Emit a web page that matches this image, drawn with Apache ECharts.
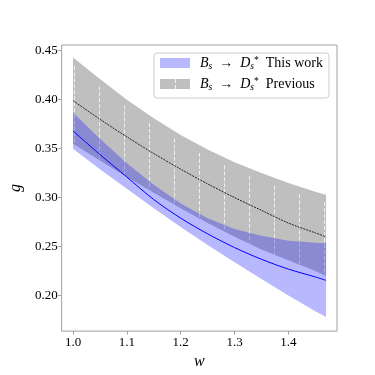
<!DOCTYPE html>
<html>
<head>
<meta charset="utf-8">
<script src="https://cdn.jsdelivr.net/npm/echarts@6/dist/echarts.min.js"></script>
<style>
html, body { margin: 0; padding: 0; background: #fff; }
#chart { width: 375px; height: 375px; }
</style>
</head>
<body>
<div id="chart"></div>
<script>
// w grid and the two bands
const w = [1.0, 1.05, 1.1, 1.15, 1.2, 1.25, 1.3, 1.35, 1.4, 1.45, 1.47]

const thisCenter = [0.368, 0.344, 0.321, 0.298, 0.279, 0.263, 0.249, 0.237, 0.227, 0.219, 0.2155]
const thisUpper = [0.387, 0.360, 0.335, 0.313, 0.294, 0.279, 0.268, 0.261, 0.256, 0.254, 0.2534]
const thisLower = [0.350, 0.329, 0.309, 0.289, 0.270, 0.2515, 0.234, 0.217, 0.200, 0.184, 0.178]

const prevCenter = [0.399, 0.380, 0.362, 0.345, 0.329, 0.314, 0.300, 0.287, 0.274, 0.264, 0.260]
const prevUpper = [0.443, 0.421, 0.400, 0.381, 0.364, 0.349, 0.336, 0.325, 0.315, 0.306, 0.303]
const prevLower = [0.355, 0.338, 0.321, 0.305, 0.289, 0.274, 0.260, 0.247, 0.236, 0.225, 0.2196]

const xTicks = [1.0, 1.1, 1.2, 1.3, 1.4]
const yTicks = [0.2, 0.25, 0.3, 0.35, 0.4, 0.45]

const nameThis = "Bs -> Ds* This work"
const namePrev = "Bs -> Ds* Previous"

const HATCH_STEP = 25
const HATCH_PHASE = 24
const FRAME = "#a0a0a0"
const SERIF = "'Liberation Serif', 'DejaVu Serif', serif"

function bandRenderer(lower, upper, hatch) {
  return function (params, api) {
    if (params.dataIndex !== 0) return null
    const top = w.map((x, i) => api.coord([x, upper[i]]))
    const bot = w.map((x, i) => api.coord([x, lower[i]]))
    const children = [{
      type: "polygon",
      shape: { points: top.concat(bot.slice().reverse()) },
      style: { fill: api.visual("color") }
    }]
    if (hatch) {
      const x0 = top[0][0]
      const x1 = top[top.length - 1][0]
      let px = Math.ceil((x0 - HATCH_PHASE) / HATCH_STEP) * HATCH_STEP + HATCH_PHASE
      for (; px <= x1; px += HATCH_STEP) {
        let j = 0
        while (j < top.length - 2 && top[j + 1][0] < px) j++
        const t = (px - top[j][0]) / (top[j + 1][0] - top[j][0])
        const yT = top[j][1] + t * (top[j + 1][1] - top[j][1])
        const yB = bot[j][1] + t * (bot[j + 1][1] - bot[j][1])
        children.push({
          type: "line",
          shape: { x1: px + 0.5, y1: yT + 8, x2: px + 0.5, y2: yB },
          style: { stroke: "rgba(255,255,255,0.75)", lineWidth: 1, lineDash: [4, 2] }
        })
      }
    }
    return { type: "group", children }
  }
}

const legendRich = {
  i: { fontFamily: SERIF, fontStyle: "italic", fontSize: 14, lineHeight: 16 },
  a: { fontFamily: SERIF, fontSize: 14, lineHeight: 16 },
  s: { fontFamily: SERIF, fontStyle: "italic", fontSize: 9.5, lineHeight: 9, verticalAlign: "bottom" },
  p: { fontFamily: SERIF, fontSize: 9.5, lineHeight: 10, verticalAlign: "top" }
}

const chart = echarts.init(document.getElementById("chart"))

chart.setOption({
  animation: false,
  backgroundColor: "#fff",
  grid: {
    left: 46,
    top: 45,
    width: 291,
    height: 288,
    show: true,
    borderColor: FRAME,
    borderWidth: 1
  },
  legend: {
    orient: "vertical",
    left: 154,
    top: 53,
    padding: [2, 6, 6, 6],
    itemGap: 5,
    itemWidth: 30,
    itemHeight: 10,
    icon: "rect",
    backgroundColor: "#fff",
    borderColor: "#cccccc",
    borderWidth: 1,
    borderRadius: 3,
    data: [nameThis, namePrev],
    textStyle: { color: "#000", padding: [0, 0, 0, 5], rich: legendRich },
    formatter(name) {
      const tail = name === nameThis ? "This work" : "Previous"
      return "{i|B}{s|s}{a|  \u2192  }{i|D}{s|s}{p|*}{a|  " + tail + "}"
    }
  },
  graphic: [{
    type: "line",
    shape: { x1: 175.5, y1: 79, x2: 175.5, y2: 89 },
    style: { stroke: "rgba(255,255,255,0.75)", lineWidth: 1, lineDash: [4, 2] },
    z: 200
  }],
  xAxis: {
    type: "value",
    min: 0.9789,
    max: 1.4903,
    name: "w",
    nameLocation: "middle",
    nameGap: 13,
    nameTextStyle: { fontFamily: SERIF, fontStyle: "italic", fontSize: 16, color: "#000" },
    axisLine: { show: false },
    axisTick: { show: true, length: 3.5, customValues: xTicks, lineStyle: { color: FRAME } },
    axisLabel: {
      customValues: xTicks,
      margin: 5,
      fontFamily: SERIF,
      fontSize: 13,
      color: "#000",
      formatter: (v) => v.toFixed(1)
    },
    splitLine: { show: false }
  },
  yAxis: {
    type: "value",
    min: 0.1637,
    max: 0.4558,
    name: "g",
    nameLocation: "middle",
    nameGap: 33,
    nameRotate: 90,
    nameTextStyle: { fontFamily: SERIF, fontStyle: "italic", fontSize: 16, color: "#000" },
    axisLine: { show: false },
    axisTick: { show: true, length: 3.5, customValues: yTicks, lineStyle: { color: FRAME } },
    axisLabel: {
      customValues: yTicks,
      margin: 4,
      fontFamily: SERIF,
      fontSize: 13,
      color: "#000",
      formatter: (v) => v.toFixed(2)
    },
    splitLine: { show: false }
  },
  series: [
    {
      name: namePrev,
      type: "custom",
      itemStyle: { color: "rgba(128,128,128,0.5)" },
      renderItem: bandRenderer(prevLower, prevUpper, true),
      encode: { x: 0, y: [1, 2] },
      data: w.map((x, i) => [x, prevLower[i], prevUpper[i]])
    },
    {
      name: nameThis,
      type: "custom",
      itemStyle: { color: "rgba(0,0,255,0.28)" },
      renderItem: bandRenderer(thisLower, thisUpper, false),
      encode: { x: 0, y: [1, 2] },
      data: w.map((x, i) => [x, thisLower[i], thisUpper[i]])
    },
    {
      name: "prev central",
      type: "line",
      showSymbol: false,
      smooth: 0.3,
      lineStyle: { color: "#222", width: 1, type: [2, 1] },
      data: w.map((x, i) => [x, prevCenter[i]])
    },
    {
      name: "this central",
      type: "line",
      showSymbol: false,
      smooth: 0.3,
      lineStyle: { color: "#0000ff", width: 1 },
      data: w.map((x, i) => [x, thisCenter[i]])
    }
  ]
})
</script>
</body>
</html>
